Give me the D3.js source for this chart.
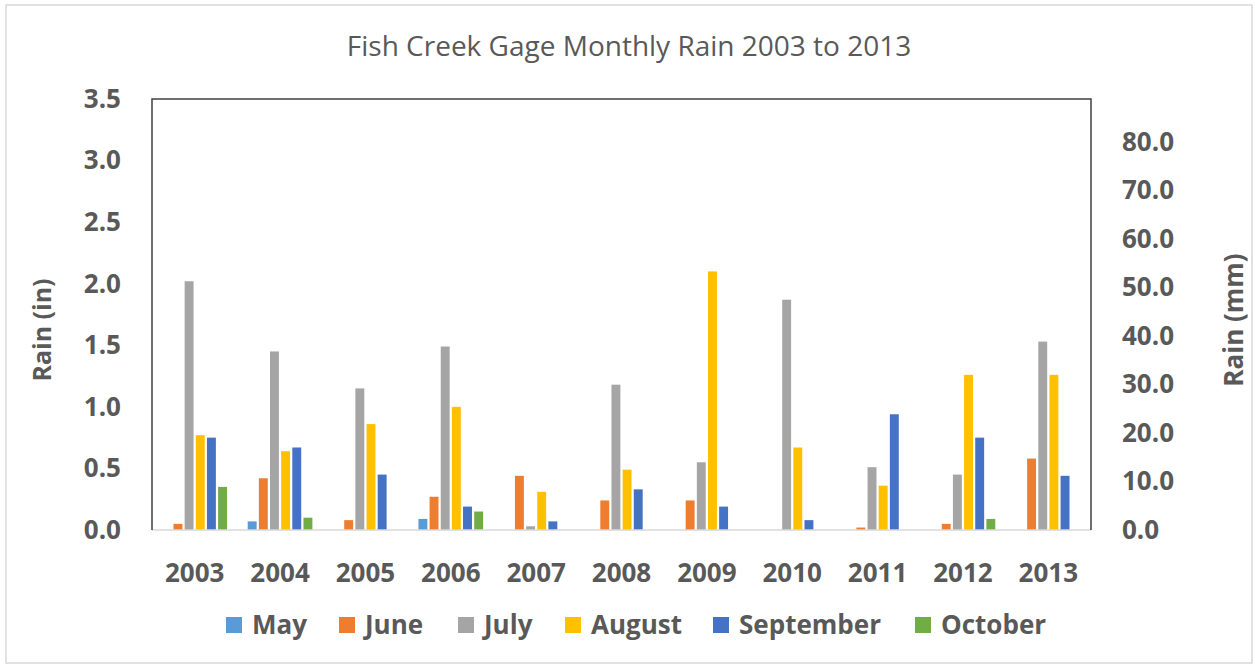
<!DOCTYPE html>
<html>
<head>
<meta charset="utf-8">
<script src="https://cdn.jsdelivr.net/npm/d3@7"></script>
<style>
  body { margin: 0; background: #fff; }
  text { font-family: "Open Sans", "Liberation Sans", sans-serif; fill: #595959; }
</style>
</head>
<body>
<svg id="chart" width="1255" height="666"></svg>
<script>
// data (inches)
var years = ["2003","2004","2005","2006","2007","2008","2009","2010","2011","2012","2013"];
var months = ["May","June","July","August","September","October"];
var colors = ["#5B9BD5","#ED7D31","#A5A5A5","#FFC000","#4472C4","#70AD47"];

var may       = [0,    0.07, 0,    0.09, 0,    0,    0,    0,    0,    0,    0];
var june      = [0.05, 0.42, 0.08, 0.27, 0.44, 0.24, 0.24, 0,    0.02, 0.05, 0.58];
var july      = [2.02, 1.45, 1.15, 1.49, 0.03, 1.18, 0.55, 1.87, 0.51, 0.45, 1.53];
var august    = [0.77, 0.64, 0.86, 1.00, 0.31, 0.49, 2.10, 0.67, 0.36, 1.26, 1.26];
var september = [0.75, 0.67, 0.45, 0.19, 0.07, 0.33, 0.19, 0.08, 0.94, 0.75, 0.44];
var october   = [0.35, 0.10, 0,    0.15, 0,    0,    0,    0,    0,    0.09, 0];

var series = [may, june, july, august, september, october];
var inTicks = [0, 0.5, 1, 1.5, 2, 2.5, 3, 3.5];
var mmTicks = [0, 10, 20, 30, 40, 50, 60, 70, 80];

var svg = d3.select("#chart");

// outer chart border
svg.append("rect")
  .attr("x", 6).attr("y", 5).attr("width", 1246).attr("height", 658)
  .attr("fill", "#fff").attr("stroke", "#D9D9D9").attr("stroke-width", 1.5);

var plotL = 152, plotR = 1091, plotT = 99, plotB = 530;

var x0 = d3.scaleBand().domain(years).range([plotL, plotR]).paddingInner(0.19).paddingOuter(0.095);
var x1 = d3.scaleBand().domain(months).range([0, x0.bandwidth()]).padding(0.2);
var y = d3.scaleLinear().domain([0, 3.5]).range([plotB, plotT]);
// same height in millimetres
var yMm = d3.scaleLinear().domain([0, 3.5 * 25.4]).range([plotB, plotT]);

// bars
var groups = svg.append("g").selectAll("g")
  .data(years)
  .join("g")
  .attr("transform", function(d) { return "translate(" + x0(d) + ",0)"; });

groups.selectAll("rect")
  .data(function(d, i) {
    return series.map(function(s, k) { return {m: months[k], v: s[i], c: colors[k]}; })
      .filter(function(e) { return e.v > 0; });
  })
  .join("rect")
  .attr("x", function(d) { return x1(d.m); })
  .attr("width", x1.bandwidth())
  .attr("y", function(d) { return y(d.v); })
  .attr("height", function(d) { return plotB - y(d.v); })
  .attr("fill", function(d) { return d.c; });

// baseline
svg.append("line")
  .attr("x1", plotL).attr("x2", plotR).attr("y1", plotB).attr("y2", plotB)
  .attr("stroke", "#D9D9D9").attr("stroke-width", 1.5);

// frame (left, top, right)
svg.append("path")
  .attr("d", "M" + plotL + "," + plotB + "V" + plotT + "H" + plotR + "V" + plotB)
  .attr("fill", "none").attr("stroke", "#404040").attr("stroke-width", 1.5);

// left axis
var yAxis = svg.append("g")
  .attr("transform", "translate(" + (plotL - 31) + ",0)")
  .call(d3.axisLeft(y).tickValues(inTicks).tickFormat(d3.format(".1f")).tickSize(0).tickPadding(0));
yAxis.select(".domain").remove();
yAxis.selectAll("text").attr("font-size", 26).attr("font-weight", "bold").attr("font-family", null);

// right axis
var yAxisR = svg.append("g")
  .attr("transform", "translate(" + (plotR + 31) + ",0)")
  .call(d3.axisRight(yMm).tickValues(mmTicks).tickFormat(d3.format(".1f")).tickSize(0).tickPadding(0));
yAxisR.select(".domain").remove();
yAxisR.selectAll("text").attr("font-size", 26).attr("font-weight", "bold").attr("font-family", null);

// x axis
var xAxis = svg.append("g")
  .attr("transform", "translate(0," + plotB + ")")
  .call(d3.axisBottom(x0).tickSize(0).tickPadding(34));
xAxis.select(".domain").remove();
xAxis.selectAll("text").attr("font-size", 26).attr("font-weight", "bold").attr("font-family", null);

// titles
svg.append("text")
  .attr("x", 629).attr("y", 56)
  .attr("text-anchor", "middle")
  .attr("font-size", 28)
  .text("Fish Creek Gage Monthly Rain 2003 to 2013");

svg.append("text")
  .attr("transform", "translate(51,330) rotate(-90)")
  .attr("text-anchor", "middle")
  .attr("font-size", 25).attr("font-weight", "bold")
  .text("Rain (in)");

svg.append("text")
  .attr("transform", "translate(1243,320) rotate(-90)")
  .attr("text-anchor", "middle")
  .attr("font-size", 26).attr("font-weight", "bold")
  .text("Rain (mm)");

// legend
var legendX = [226, 339, 458, 565, 713, 915];
var legend = svg.append("g").selectAll("g")
  .data(months)
  .join("g")
  .attr("transform", function(d, i) { return "translate(" + legendX[i] + ",617)"; });
legend.append("rect")
  .attr("width", 16).attr("height", 16)
  .attr("fill", function(d, i) { return colors[i]; });
legend.append("text")
  .attr("x", 26).attr("y", 8).attr("dy", "0.35em")
  .attr("font-size", 26).attr("font-weight", "bold")
  .text(function(d) { return d; });
</script>
</body>
</html>
